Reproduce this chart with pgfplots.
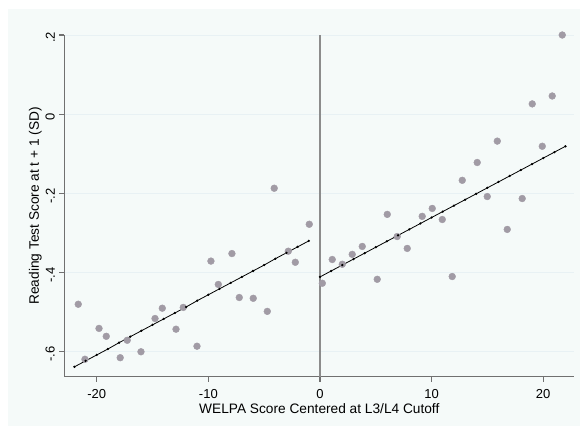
\documentclass[border=0pt]{standalone}
\usepackage{fontspec}
\setmainfont{Liberation Sans}
\usepackage{pgfplots}
\pgfplotsset{compat=1.18}
\definecolor{bgtint}{RGB}{245,250,249}
\definecolor{gridc}{RGB}{232,241,244}
\definecolor{ptc}{RGB}{161,155,165}
\definecolor{axc}{RGB}{112,112,112}
\definecolor{zeroc}{RGB}{140,140,140}
\begin{document}
\fontsize{13}{15}\selectfont
\begin{tikzpicture}
\path[use as bounding box] (-64.3pt,-49.3pt) rectangle (515.7pt,376.7pt);
\fill[white] (-64.3pt,-49.3pt) rectangle (515.7pt,376.7pt);
\fill[bgtint] (-56.3pt,-49.3pt) rectangle (515.7pt,367.7pt);
\begin{axis}[
  at={(0,0)}, anchor=south west,
  scale only axis, width=510pt, height=341.7pt,
  xmin=-22.91, xmax=22.79, ymin=-0.663, ymax=0.2,
  axis x line*=bottom, axis y line*=left,
  axis line style={axc, line width=1.3pt, -},
  tick style={axc, line width=1.2pt},
  tick align=outside, major tick length=5pt,
  xtick={-20,-10,0,10,20},
  xticklabels={-20,-10,0,10,20},
  ytick={-0.6,-0.4,-0.2,0,0.2},
  yticklabels={-.6,-.4,-.2,0,.2},
  xticklabel style={anchor=north, yshift=-3.5pt, font=\fontsize{13}{15}\selectfont},
  yticklabel style={rotate=90, anchor=south, xshift=-2.5pt, font=\fontsize{13}{15}\selectfont},
  ymajorgrids, major grid style={gridc, line width=1pt},
  xlabel={WELPA Score Centered at L3/L4 Cutoff},
  ylabel={Reading Test Score at t + 1 (SD)},
  xlabel style={at={(axis description cs:0.5,-0.093)}, anchor=center, font=\fontsize{13.7}{16}\selectfont},
  ylabel style={at={(axis description cs:-0.0569,0.5)}, anchor=center, font=\fontsize{13.7}{16}\selectfont},
  clip=false,
]
\draw[zeroc, line width=1.8pt] (axis cs:0,-0.663) -- (axis cs:0,0.2);
\addplot[only marks, mark=*, mark size=3.4pt, mark options={fill=ptc, draw=ptc}] coordinates {
(-21.66,-0.480) (-21.06,-0.619) (-19.80,-0.541) (-19.15,-0.561) (-17.90,-0.615)
(-17.27,-0.571) (-16.04,-0.600) (-14.78,-0.516) (-14.13,-0.490) (-12.90,-0.543)
(-12.25,-0.488) (-11.02,-0.586) (-9.77,-0.371) (-9.11,-0.430) (-7.89,-0.352)
(-7.23,-0.463) (-5.98,-0.465) (-4.72,-0.498) (-4.10,-0.187) (-2.84,-0.346)
(-2.21,-0.374) (-0.96,-0.278)
};
\addplot[only marks, mark=*, mark size=3.4pt, mark options={fill=ptc, draw=ptc}] coordinates {
(0.21,-0.427) (1.10,-0.367) (2.00,-0.379) (2.89,-0.354) (3.79,-0.334)
(5.13,-0.417) (6.03,-0.253) (6.92,-0.309) (7.82,-0.339) (9.16,-0.258)
(10.06,-0.238) (10.96,-0.266) (11.85,-0.410) (12.75,-0.167) (14.09,-0.122)
(14.99,-0.208) (15.89,-0.068) (16.78,-0.291) (18.12,-0.213) (19.02,0.026)
(19.92,-0.081) (20.81,0.046) (21.71,0.200)
};
\addplot[black, line width=0.8pt, mark=*, mark size=0.7pt] coordinates {
(-22,-0.638) (-21,-0.623) (-20,-0.608) (-19,-0.593) (-18,-0.577) (-17,-0.562)
(-16,-0.547) (-15,-0.532) (-14,-0.517) (-13,-0.502) (-12,-0.487) (-11,-0.471)
(-10,-0.456) (-9,-0.441) (-8,-0.426) (-7,-0.411) (-6,-0.396) (-5,-0.381)
(-4,-0.365) (-3,-0.350) (-2,-0.335) (-1,-0.320)
};
\addplot[black, line width=0.8pt, mark=*, mark size=0.7pt] coordinates {
(0,-0.411) (1,-0.396) (2,-0.381) (3,-0.366) (4,-0.351) (5,-0.336) (6,-0.321)
(7,-0.306) (8,-0.291) (9,-0.276) (10,-0.261) (11,-0.246) (12,-0.231)
(13,-0.216) (14,-0.201) (15,-0.186) (16,-0.171) (17,-0.156) (18,-0.141)
(19,-0.126) (20,-0.111) (21,-0.096) (22,-0.081)
};
\end{axis}
\end{tikzpicture}
\end{document}
